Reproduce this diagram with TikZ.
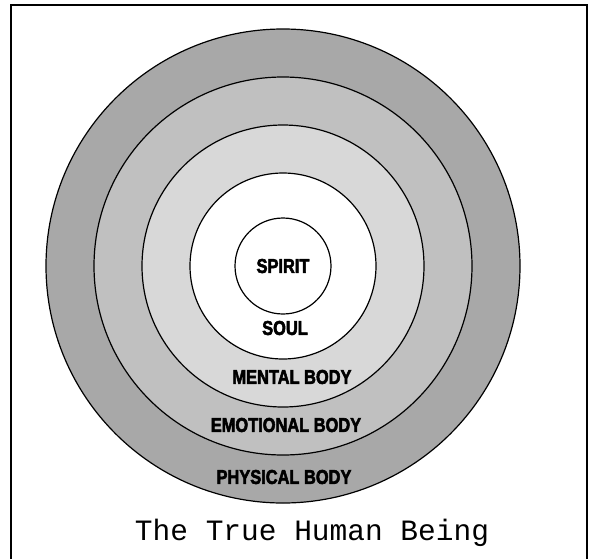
\documentclass[tikz,border=0pt]{standalone}
\usepackage{fontspec}
\setmainfont{Liberation Sans}
\newfontfamily\monofam{Liberation Mono}
\newfontfamily\heavyfont[FakeBold=3]{Liberation Sans Bold}
\definecolor{ringA}{HTML}{A8A8A8}
\definecolor{ringB}{HTML}{C0C0C0}
\definecolor{ringC}{HTML}{D8D8D8}
\tikzset{
  ring/.style={draw=black, line width=1.2pt},
  lbl/.style={font=\heavyfont\fontsize{20}{22}\selectfont, inner sep=0pt},
}
\newcommand{\cond}[1]{\scalebox{0.82}[1]{#1}}
\begin{document}
\begin{tikzpicture}[x=1pt,y=-1pt]
\useasboundingbox (0,0) rectangle (590,558);
\clip (0,0) rectangle (590,558);
\fill[white] (0,0) rectangle (590,558);
\draw[line width=2pt] (11,5) rectangle (587,600);
\coordinate (c) at (283,266);
\filldraw[ring, fill=ringA] (c) circle (237);
\filldraw[ring, fill=ringB] (c) circle (189);
\filldraw[ring, fill=ringC] (c) circle (141);
\filldraw[ring, fill=white] (c) circle (93);
\filldraw[ring, fill=white] (c) circle (48);
\node[lbl] (spirit) at (283,266) {\cond{SPIRIT}};
\node[lbl] (soul) at (285,328) {\cond{SOUL}};
\node[lbl] (mental) at (292,377) {\cond{MENTAL BODY}};
\node[lbl] (emotional) at (286,425) {\cond{EMOTIONAL BODY}};
\node[lbl] (physical) at (284,477) {\cond{PHYSICAL BODY}};
\node[font=\monofam\fontsize{29.5}{32}\selectfont, inner sep=0pt] (title) at (312,533) {The True Human Being};
\end{tikzpicture}
\end{document}
